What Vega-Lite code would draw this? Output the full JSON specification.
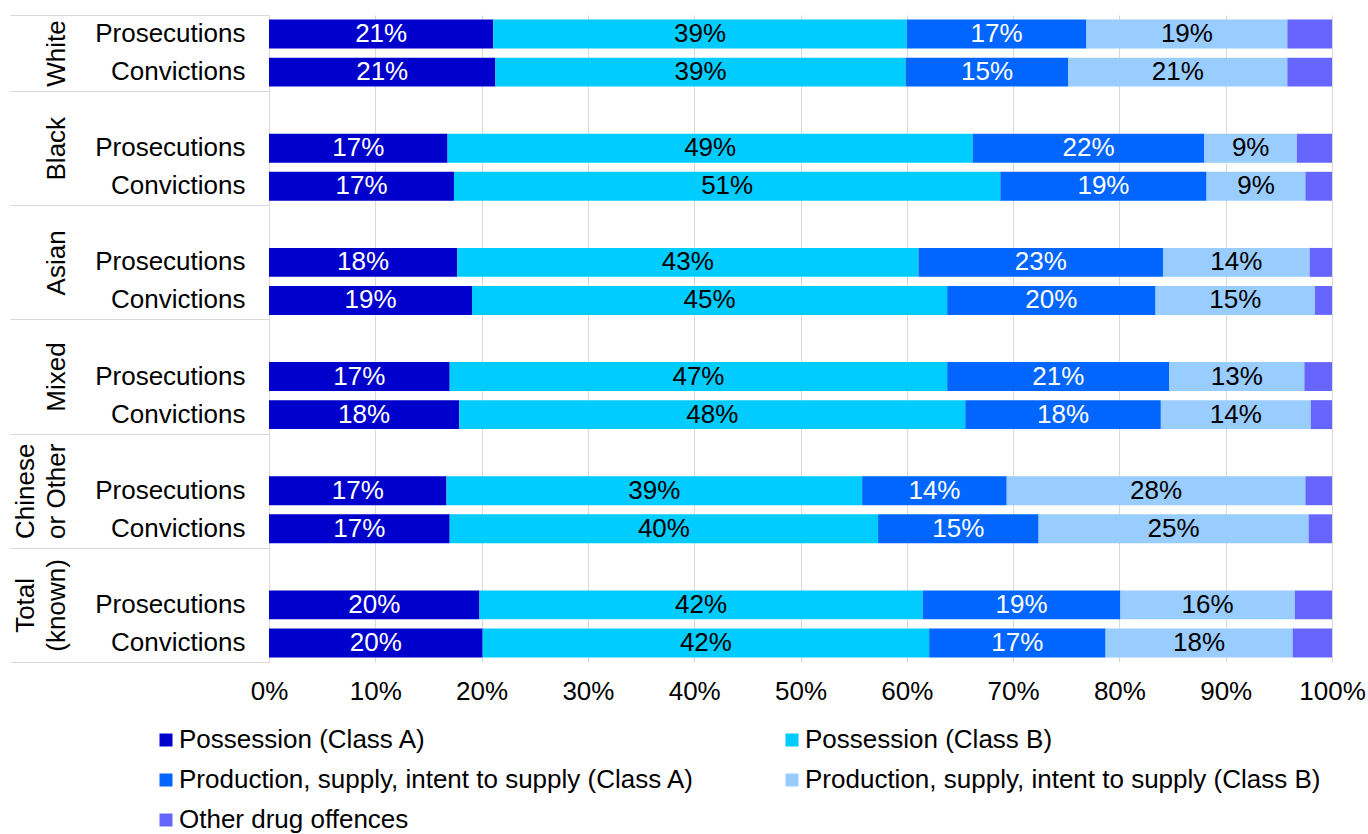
{
  "$schema": "https://vega.github.io/schema/vega-lite/v6.json",
  "width": 1063,
  "height": 647,
  "autosize": {"type": "none"},
  "padding": {"left": 269, "top": 15, "right": 36, "bottom": 172},
  "background": "white",
  "config": {
    "font": "Liberation Sans",
    "view": {"stroke": null},
    "axis": {"labelFont": "Liberation Sans", "labelColor": "#000000", "labelFontSize": 26},
    "legend": {"labelFont": "Liberation Sans"}
  },
  "datasets": {
    "drug": [
      {"group": "White", "measure": "Prosecutions", "row": "W-P", "offence": "Possession (Class A)", "share": 0.211},
      {"group": "White", "measure": "Prosecutions", "row": "W-P", "offence": "Possession (Class B)", "share": 0.389},
      {"group": "White", "measure": "Prosecutions", "row": "W-P", "offence": "Production, supply, intent to supply (Class A)", "share": 0.169},
      {"group": "White", "measure": "Prosecutions", "row": "W-P", "offence": "Production, supply, intent to supply (Class B)", "share": 0.189},
      {"group": "White", "measure": "Prosecutions", "row": "W-P", "offence": "Other drug offences", "share": 0.042},
      {"group": "White", "measure": "Convictions", "row": "W-C", "offence": "Possession (Class A)", "share": 0.213},
      {"group": "White", "measure": "Convictions", "row": "W-C", "offence": "Possession (Class B)", "share": 0.386},
      {"group": "White", "measure": "Convictions", "row": "W-C", "offence": "Production, supply, intent to supply (Class A)", "share": 0.153},
      {"group": "White", "measure": "Convictions", "row": "W-C", "offence": "Production, supply, intent to supply (Class B)", "share": 0.206},
      {"group": "White", "measure": "Convictions", "row": "W-C", "offence": "Other drug offences", "share": 0.042},
      {"group": "Black", "measure": "Prosecutions", "row": "B-P", "offence": "Possession (Class A)", "share": 0.168},
      {"group": "Black", "measure": "Prosecutions", "row": "B-P", "offence": "Possession (Class B)", "share": 0.494},
      {"group": "Black", "measure": "Prosecutions", "row": "B-P", "offence": "Production, supply, intent to supply (Class A)", "share": 0.218},
      {"group": "Black", "measure": "Prosecutions", "row": "B-P", "offence": "Production, supply, intent to supply (Class B)", "share": 0.087},
      {"group": "Black", "measure": "Prosecutions", "row": "B-P", "offence": "Other drug offences", "share": 0.033},
      {"group": "Black", "measure": "Convictions", "row": "B-C", "offence": "Possession (Class A)", "share": 0.174},
      {"group": "Black", "measure": "Convictions", "row": "B-C", "offence": "Possession (Class B)", "share": 0.514},
      {"group": "Black", "measure": "Convictions", "row": "B-C", "offence": "Production, supply, intent to supply (Class A)", "share": 0.194},
      {"group": "Black", "measure": "Convictions", "row": "B-C", "offence": "Production, supply, intent to supply (Class B)", "share": 0.093},
      {"group": "Black", "measure": "Convictions", "row": "B-C", "offence": "Other drug offences", "share": 0.025},
      {"group": "Asian", "measure": "Prosecutions", "row": "A-P", "offence": "Possession (Class A)", "share": 0.177},
      {"group": "Asian", "measure": "Prosecutions", "row": "A-P", "offence": "Possession (Class B)", "share": 0.434},
      {"group": "Asian", "measure": "Prosecutions", "row": "A-P", "offence": "Production, supply, intent to supply (Class A)", "share": 0.230},
      {"group": "Asian", "measure": "Prosecutions", "row": "A-P", "offence": "Production, supply, intent to supply (Class B)", "share": 0.138},
      {"group": "Asian", "measure": "Prosecutions", "row": "A-P", "offence": "Other drug offences", "share": 0.021},
      {"group": "Asian", "measure": "Convictions", "row": "A-C", "offence": "Possession (Class A)", "share": 0.191},
      {"group": "Asian", "measure": "Convictions", "row": "A-C", "offence": "Possession (Class B)", "share": 0.447},
      {"group": "Asian", "measure": "Convictions", "row": "A-C", "offence": "Production, supply, intent to supply (Class A)", "share": 0.196},
      {"group": "Asian", "measure": "Convictions", "row": "A-C", "offence": "Production, supply, intent to supply (Class B)", "share": 0.150},
      {"group": "Asian", "measure": "Convictions", "row": "A-C", "offence": "Other drug offences", "share": 0.016},
      {"group": "Mixed", "measure": "Prosecutions", "row": "M-P", "offence": "Possession (Class A)", "share": 0.170},
      {"group": "Mixed", "measure": "Prosecutions", "row": "M-P", "offence": "Possession (Class B)", "share": 0.468},
      {"group": "Mixed", "measure": "Prosecutions", "row": "M-P", "offence": "Production, supply, intent to supply (Class A)", "share": 0.209},
      {"group": "Mixed", "measure": "Prosecutions", "row": "M-P", "offence": "Production, supply, intent to supply (Class B)", "share": 0.127},
      {"group": "Mixed", "measure": "Prosecutions", "row": "M-P", "offence": "Other drug offences", "share": 0.026},
      {"group": "Mixed", "measure": "Convictions", "row": "M-C", "offence": "Possession (Class A)", "share": 0.179},
      {"group": "Mixed", "measure": "Convictions", "row": "M-C", "offence": "Possession (Class B)", "share": 0.476},
      {"group": "Mixed", "measure": "Convictions", "row": "M-C", "offence": "Production, supply, intent to supply (Class A)", "share": 0.184},
      {"group": "Mixed", "measure": "Convictions", "row": "M-C", "offence": "Production, supply, intent to supply (Class B)", "share": 0.141},
      {"group": "Mixed", "measure": "Convictions", "row": "M-C", "offence": "Other drug offences", "share": 0.020},
      {"group": "Chinese or Other", "measure": "Prosecutions", "row": "C-P", "offence": "Possession (Class A)", "share": 0.167},
      {"group": "Chinese or Other", "measure": "Prosecutions", "row": "C-P", "offence": "Possession (Class B)", "share": 0.391},
      {"group": "Chinese or Other", "measure": "Prosecutions", "row": "C-P", "offence": "Production, supply, intent to supply (Class A)", "share": 0.136},
      {"group": "Chinese or Other", "measure": "Prosecutions", "row": "C-P", "offence": "Production, supply, intent to supply (Class B)", "share": 0.281},
      {"group": "Chinese or Other", "measure": "Prosecutions", "row": "C-P", "offence": "Other drug offences", "share": 0.025},
      {"group": "Chinese or Other", "measure": "Convictions", "row": "C-C", "offence": "Possession (Class A)", "share": 0.170},
      {"group": "Chinese or Other", "measure": "Convictions", "row": "C-C", "offence": "Possession (Class B)", "share": 0.403},
      {"group": "Chinese or Other", "measure": "Convictions", "row": "C-C", "offence": "Production, supply, intent to supply (Class A)", "share": 0.151},
      {"group": "Chinese or Other", "measure": "Convictions", "row": "C-C", "offence": "Production, supply, intent to supply (Class B)", "share": 0.254},
      {"group": "Chinese or Other", "measure": "Convictions", "row": "C-C", "offence": "Other drug offences", "share": 0.022},
      {"group": "Total (known)", "measure": "Prosecutions", "row": "T-P", "offence": "Possession (Class A)", "share": 0.198},
      {"group": "Total (known)", "measure": "Prosecutions", "row": "T-P", "offence": "Possession (Class B)", "share": 0.417},
      {"group": "Total (known)", "measure": "Prosecutions", "row": "T-P", "offence": "Production, supply, intent to supply (Class A)", "share": 0.186},
      {"group": "Total (known)", "measure": "Prosecutions", "row": "T-P", "offence": "Production, supply, intent to supply (Class B)", "share": 0.164},
      {"group": "Total (known)", "measure": "Prosecutions", "row": "T-P", "offence": "Other drug offences", "share": 0.035},
      {"group": "Total (known)", "measure": "Convictions", "row": "T-C", "offence": "Possession (Class A)", "share": 0.201},
      {"group": "Total (known)", "measure": "Convictions", "row": "T-C", "offence": "Possession (Class B)", "share": 0.420},
      {"group": "Total (known)", "measure": "Convictions", "row": "T-C", "offence": "Production, supply, intent to supply (Class A)", "share": 0.166},
      {"group": "Total (known)", "measure": "Convictions", "row": "T-C", "offence": "Production, supply, intent to supply (Class B)", "share": 0.176},
      {"group": "Total (known)", "measure": "Convictions", "row": "T-C", "offence": "Other drug offences", "share": 0.037}
    ],
    "bounds": [
      {"group": "White", "start": 0},
      {"group": "Black", "start": 2},
      {"group": "Asian", "start": 5},
      {"group": "Mixed", "start": 8},
      {"group": "Chinese or Other", "start": 11},
      {"group": "Total (known)", "start": 14},
      {"group": "end", "start": 17}
    ]
  },
  "layer": [
    {
      "data": {"name": "drug"},
      "transform": [
        {"calculate": "indexof(['Possession (Class A)','Possession (Class B)','Production, supply, intent to supply (Class A)','Production, supply, intent to supply (Class B)','Other drug offences'], datum.offence)", "as": "k"},
        {"stack": "share", "groupby": ["row"], "sort": [{"field": "k", "order": "ascending"}], "offset": "normalize", "as": ["x0", "x1"]}
      ],
      "mark": {"type": "bar"},
      "encoding": {
        "y": {
          "field": "row", "type": "nominal",
          "scale": {"domain": ["W-P","W-C","B-0","B-P","B-C","A-0","A-P","A-C","M-0","M-P","M-C","C-0","C-P","C-C","T-0","T-P","T-C"], "paddingInner": 0.24, "paddingOuter": 0.12},
          "axis": {
            "orient": "left", "title": null, "ticks": false, "domain": true, "domainColor": "#d9d9d9", "domainWidth": 1,
            "labelPadding": 24, "labelAlign": "right", "labelBaseline": "middle", "labelFontSize": 26, "labelColor": "#000000", "labelLimit": 300,
            "labelExpr": "slice(datum.value, -1) === 'P' ? 'Prosecutions' : slice(datum.value, -1) === 'C' ? 'Convictions' : ''"
          }
        },
        "x": {
          "field": "x0", "type": "quantitative",
          "scale": {"domain": [0, 1], "nice": false},
          "axis": {
            "title": null, "format": ".0%", "values": [0, 0.1, 0.2, 0.3, 0.4, 0.5, 0.6, 0.7, 0.8, 0.9, 1],
            "grid": true, "gridColor": "#d9d9d9", "gridWidth": 1, "ticks": false, "domain": false,
            "labelPadding": 16, "labelFontSize": 26, "labelColor": "#000000", "labelFlush": false, "labelOverlap": false
          }
        },
        "x2": {"field": "x1"},
        "color": {
          "field": "offence", "type": "nominal",
          "sort": ["Possession (Class A)", "Production, supply, intent to supply (Class A)", "Other drug offences", "Possession (Class B)", "Production, supply, intent to supply (Class B)"],
          "scale": {
            "domain": ["Possession (Class A)", "Production, supply, intent to supply (Class A)", "Other drug offences", "Possession (Class B)", "Production, supply, intent to supply (Class B)"],
            "range": ["#0000cc", "#0066ff", "#6666ff", "#00ccff", "#99ccff"]
          },
          "legend": {
            "orient": "none", "legendX": -116, "legendY": 712, "direction": "vertical", "columns": 2, "columnPadding": 84, "rowPadding": 14,
            "symbolType": "square", "symbolSize": 169, "symbolStrokeWidth": 0, "labelFontSize": 26, "labelLimit": 700, "labelOffset": 0,
            "labelColor": "#000000", "title": null, "padding": 0
          }
        }
      }
    },
    {
      "data": {"name": "drug"},
      "transform": [
        {"calculate": "indexof(['Possession (Class A)','Possession (Class B)','Production, supply, intent to supply (Class A)','Production, supply, intent to supply (Class B)','Other drug offences'], datum.offence)", "as": "k"},
        {"stack": "share", "groupby": ["row"], "sort": [{"field": "k", "order": "ascending"}], "offset": "normalize", "as": ["x0", "x1"]},
        {"calculate": "(datum.x0 + datum.x1) / 2", "as": "mid"},
        {"filter": "datum.offence !== 'Other drug offences'"}
      ],
      "mark": {"type": "text", "fontSize": 26, "font": "Liberation Sans", "align": "center", "baseline": "middle"},
      "encoding": {
        "y": {
          "field": "row", "type": "nominal",
          "scale": {"domain": ["W-P","W-C","B-0","B-P","B-C","A-0","A-P","A-C","M-0","M-P","M-C","C-0","C-P","C-C","T-0","T-P","T-C"], "paddingInner": 0.24, "paddingOuter": 0.12},
          "axis": {
            "orient": "left", "title": null, "ticks": false, "tickSize": 0, "domain": false, "offset": 200,
            "labelPadding": {"condition": {"test": "datum.value === 'C-P' || datum.value === 'T-P'", "value": 31}, "value": 0},
            "labelAngle": -90, "labelAlign": "center", "labelBaseline": "bottom", "labelLineHeight": 31,
            "labelFontSize": 26, "labelColor": "#000000", "labelOverlap": false, "labelBound": false, "labelLimit": 300,
            "labelOffset": {"condition": {"test": "datum.value === 'W-P'", "value": 19}, "value": 0},
            "labelExpr": "datum.value === 'W-P' ? 'White' : datum.value === 'B-P' ? 'Black' : datum.value === 'A-P' ? 'Asian' : datum.value === 'M-P' ? 'Mixed' : datum.value === 'C-P' ? ['Chinese', 'or Other'] : datum.value === 'T-P' ? ['Total', '(known)'] : ''"
          }
        },
        "x": {"field": "mid", "type": "quantitative"},
        "text": {"field": "share", "type": "quantitative", "format": ".0%"},
        "color": {
          "condition": {"test": "datum.offence === 'Possession (Class B)' || datum.offence === 'Production, supply, intent to supply (Class B)'", "value": "#000000"},
          "value": "#ffffff"
        }
      }
    },
    {
      "data": {"name": "bounds"},
      "mark": {"type": "rule", "opacity": 0},
      "encoding": {
        "y": {
          "field": "start", "type": "quantitative",
          "scale": {"domain": [0, 17], "reverse": true, "nice": false, "zero": false},
          "axis": {
            "orient": "left", "title": null, "values": [0, 2, 5, 8, 11, 14, 17], "labels": false, "domain": false, "grid": false,
            "ticks": true, "tickSize": 259, "tickColor": "#d9d9d9", "tickWidth": 1
          }
        }
      }
    }
  ],
  "resolve": {"scale": {"y": "independent"}, "axis": {"y": "independent"}}
}
